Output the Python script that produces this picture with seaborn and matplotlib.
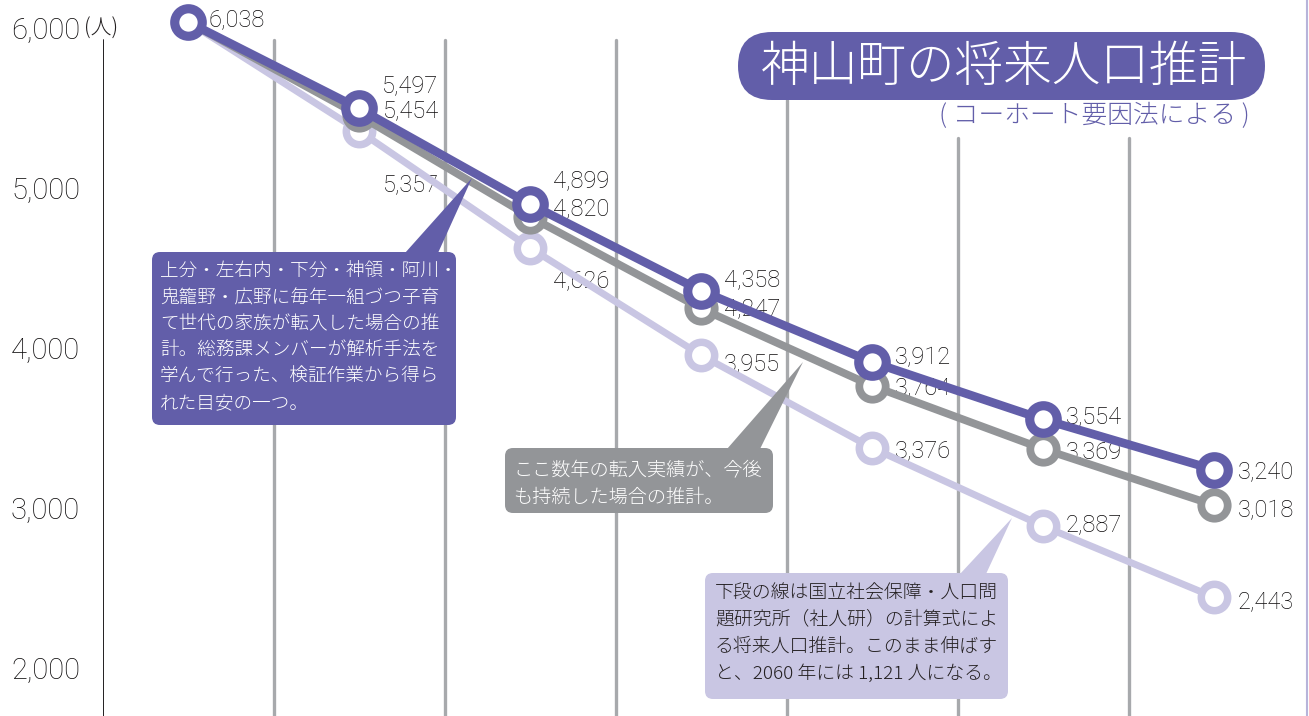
import matplotlib
matplotlib.use("Agg")
import matplotlib.pyplot as plt
from matplotlib.patches import FancyBboxPatch, Polygon
import seaborn as sns
import pandas as pd

# ---------------- data ----------------
periods = [0, 1, 2, 3, 4, 5, 6]
pop_kosodate = [6038, 5497, 4899, 4358, 3912, 3554, 3240]   # 子育て世代転入
pop_tennyu = [6038, 5454, 4820, 4247, 3764, 3369, 3018]     # 転入実績継続
pop_shajinken = [6038, 5357, 4626, 3955, 3376, 2887, 2443]  # 社人研
y_ticks = [2000, 3000, 4000, 5000, 6000]
y_tick_labels = ["2,000", "3,000", "4,000", "5,000", "6,000"]
title = "神山町の将来人口推計"
subtitle = "( コーホート要因法による )"
unit = "(人)"
note_purple = ["上分・左右内・下分・神領・阿川・", "鬼籠野・広野に毎年一組づつ子育",
               "て世代の家族が転入した場合の推", "計。総務課メンバーが解析手法を",
               "学んで行った、検証作業から得ら", "れた目安の一つ。"]
note_gray = ["ここ数年の転入実績が、今後", "も持続した場合の推計。"]
note_light = ["下段の線は国立社会保障・人口問", "題研究所（社人研）の計算式によ",
              "る将来人口推計。このまま伸ばす", "と、2060 年には 1,121 人になる。"]

# ---------------- style ----------------
PURPLE = "#625EA9"
GRAY = "#939598"
LIGHT = "#C9C6E3"
TXT = "#231F20"
NUM = "#0d0b0c"
GRID = "#A7A9AC"

sns.set_style("white")
plt.rcParams["font.family"] = ["Roboto", "Noto Sans CJK JP", "DejaVu Sans"]
CJK = ["Noto Sans CJK JP", "DejaVu Sans"]

W, H = 1309, 716
fig = plt.figure(figsize=(W / 100, H / 100), dpi=100)
x0 = 102.5
ax = fig.add_axes([x0 / W, 0, 1 - x0 / W, 1])
ax.set_xlim(-0.5, (W - 188) / 171)
ax.set_ylim(1700, 6175)
for s in ax.spines.values():
    s.set_visible(False)
ax.set_xticks([])
ax.set_yticks(y_ticks)
ax.set_yticklabels(y_tick_labels, fontsize=21, color=NUM, fontweight="light")
ax.tick_params(axis="y", length=0, pad=16.2)

# vertical lines
ax.axvline(-0.5, ymin=0, ymax=1 - 40 / H, color=TXT, lw=1.4, zorder=1)
grid_tops = [40, 40, 40, 100, 138, 138]
for k, top in enumerate(grid_tops):
    ax.axvline(k + 0.5, ymin=0, ymax=1 - top / H, color=GRID, lw=2.4, zorder=1)

df = pd.DataFrame({
    "period": periods * 3,
    "pop": pop_shajinken + pop_tennyu + pop_kosodate,
    "series": ["社人研"] * 7 + ["転入実績"] * 7 + ["子育て世代"] * 7,
})
specs = [("社人研", LIGHT, 5.0, 19.0, 5.4, 3),
         ("転入実績", GRAY, 5.6, 19.0, 5.6, 4),
         ("子育て世代", PURPLE, 6.2, 19.8, 6.6, 5)]
for name, col, lw, ms, mew, z in specs:
    sub = df[df["series"] == name]
    sns.lineplot(data=sub, x="period", y="pop", ax=ax, color=col, linewidth=lw,
                 marker="o", markersize=ms, markerfacecolor="white",
                 markeredgecolor=col, markeredgewidth=mew, zorder=z, legend=False)
ax.set_xlabel("")
ax.set_ylabel("")

# value labels (pixel offsets: dx right, dy up of the visual centre)
offs_purple = [(20, 4), (23, 24.5), (23, 25), (23, 13), (23, 6), (23, 4), (24, -1)]
offs_gray = [None, (24, 6), (23, 10), (23, 1.5), (23, 0), (23, -1), (24, -4)]
offs_light = [None, (24, -52), (23, -31), (23, -7), (23, -1), (23, 3), (24, -3)]
for vals, offs in [(pop_kosodate, offs_purple), (pop_tennyu, offs_gray), (pop_shajinken, offs_light)]:
    for p, v, o in zip(periods, vals, offs):
        if o is None:
            continue
        ax.annotate(f"{v:,}", (p, v), xytext=(o[0], o[1] - 8), textcoords="offset pixels",
                    ha="left", va="baseline", fontsize=17, color=NUM, fontweight="light",
                    zorder=2)

# ---------------- overlay (pixel coords) ----------------
ov = fig.add_axes([0, 0, 1, 1], zorder=3)
ov.set_xlim(0, W)
ov.set_ylim(H, 0)
ov.axis("off")
ov.patch.set_alpha(0)

ov.text(84, 29, unit, fontsize=15, color=TXT, ha="left", va="center", family=CJK, fontweight="light")

# title pill
ov.add_patch(FancyBboxPatch((738, 32), 527, 68, boxstyle="round,pad=0,rounding_size=34",
                            fc=PURPLE, ec="none"))
ov.text(1004, 67, title, fontsize=35, color="white", ha="center", va="center",
        family=CJK, fontweight="light")
ov.text(1250, 116, subtitle, fontsize=18.5, color=PURPLE, ha="right", va="center",
        family=CJK, fontweight="light")


def callout(x, y, w, h, tri, fc, lines, tc, tx, ty, dy, fs):
    ov.add_patch(Polygon(tri, closed=True, fc=fc, ec="none"))
    ov.add_patch(FancyBboxPatch((x, y), w, h, boxstyle="round,pad=0,rounding_size=8",
                                fc=fc, ec="none"))
    for i, ln in enumerate(lines):
        ov.text(tx, ty + dy * i, ln, fontsize=fs, color=tc, ha="left", va="center",
                family=CJK, fontweight="light")


callout(152, 252, 304, 173, [(405, 253), (438, 253), (472, 178)], PURPLE, note_purple,
        "white", 160, 272, 26.3, 13.4)
callout(505, 448, 268, 65, [(727, 449), (760, 449), (803, 362)], GRAY, note_gray,
        "white", 513, 471, 26, 13.8)
callout(705, 573, 303, 126, [(960, 574), (986, 574), (1012, 518)], LIGHT, note_light,
        TXT, 715, 593, 26.7, 13.6)

ov.plot([1307, 1307], [0, H], color="#B7B4DA", lw=1.5)

fig.savefig("out.png", dpi=100)
